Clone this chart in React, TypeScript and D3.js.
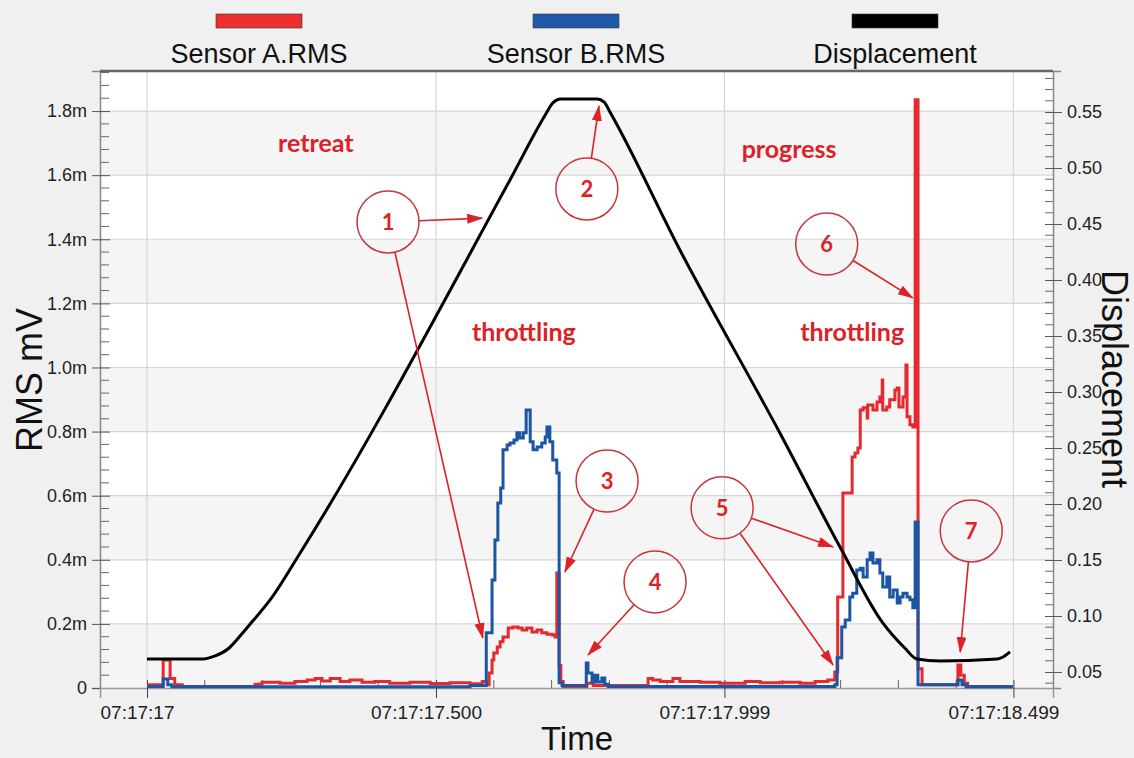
import { useEffect, useRef } from 'react';
import * as d3 from 'd3';

// time axis: milliseconds after 07:17:17.000
const timeTicks = [0, 500, 999, 1499];
const timeTickLabels = ['07:17:17', '07:17:17.500', '07:17:17.999', '07:17:18.499'];
const rmsTicks = [0, 0.2, 0.4, 0.6, 0.8, 1.0, 1.2, 1.4, 1.6, 1.8];
const dispTicks = [0.05, 0.1, 0.15, 0.2, 0.25, 0.3, 0.35, 0.4, 0.45, 0.5, 0.55];

// Sensor A.RMS (mV, shown with "m" suffix), step series
const sensorATime = [
  0, 28, 40, 48, 61, 187, 199, 230, 256, 277, 291, 303, 317, 334, 351, 372, 394, 420, 455, 490,
  524, 559, 580, 588, 592, 597, 600, 606, 611, 616, 625, 633, 642, 649, 657, 666, 675, 683, 692, 701,
  706, 709, 713, 716, 720, 760, 761, 772, 867, 875, 888, 910, 922, 957, 991, 1035, 1061, 1095, 1130, 1156,
  1178, 1190, 1195, 1204, 1220, 1225, 1230, 1234, 1239, 1246, 1247, 1256, 1263, 1268, 1272, 1273, 1280, 1285, 1294, 1298,
  1301, 1308, 1313, 1315, 1320, 1325, 1329, 1334, 1341, 1403, 1408, 1414, 1420, 1498,
];
const sensorAValue = [
  0.01, 0.087, 0.03, 0.01, 0.005, 0.012, 0.018, 0.015, 0.02, 0.025, 0.03, 0.022, 0.03, 0.02, 0.025, 0.018, 0.02, 0.015, 0.018, 0.014,
  0.016, 0.013, 0.02, 0.01, 0.047, 0.087, 0.109, 0.128, 0.144, 0.159, 0.187, 0.19, 0.187, 0.181, 0.187, 0.175, 0.181, 0.172, 0.168, 0.165,
  0.159, 0.359, 0.07, 0.02, 0.005, 0.005, 0.015, 0.008, 0.03, 0.025, 0.02, 0.03, 0.02, 0.018, 0.015, 0.02, 0.016, 0.018, 0.015, 0.02,
  0.025, 0.05, 0.284, 0.608, 0.721, 0.733, 0.749, 0.867, 0.874, 0.842, 0.883, 0.867, 0.892, 0.908, 0.961, 0.867, 0.877, 0.899, 0.93, 0.936,
  0.877, 0.908, 1.008, 0.846, 0.821, 0.814, 1.835, 0.06, 0.01, 0.072, 0.04, 0.015, 0.005, 0.005,
];

// Sensor B.RMS
const sensorBTime = [
  0, 28, 36, 43, 559, 587, 597, 602, 607, 612, 616, 623, 628, 635, 640, 645, 651, 656, 663, 668,
  675, 683, 689, 692, 697, 702, 709, 713, 718, 760, 763, 770, 775, 780, 787, 792, 798, 1190, 1194, 1202,
  1208, 1216, 1221, 1228, 1234, 1239, 1246, 1251, 1256, 1263, 1268, 1273, 1280, 1285, 1291, 1298, 1303, 1308, 1315, 1320,
  1325, 1329, 1334, 1403, 1410, 1417, 1498,
];
const sensorBValue = [
  0.005, 0.028, 0.01, 0.004, 0.008, 0.172, 0.337, 0.462, 0.577, 0.624, 0.743, 0.758, 0.764, 0.774, 0.796, 0.78, 0.796, 0.867, 0.768, 0.743,
  0.752, 0.764, 0.783, 0.814, 0.768, 0.711, 0.671, 0.016, 0.008, 0.078, 0.047, 0.019, 0.04, 0.019, 0.031, 0.012, 0.005, 0.01, 0.094, 0.19,
  0.212, 0.284, 0.296, 0.368, 0.374, 0.346, 0.4, 0.421, 0.39, 0.4, 0.359, 0.315, 0.346, 0.284, 0.306, 0.265, 0.284, 0.296, 0.284, 0.275,
  0.25, 0.518, 0.01, 0.025, 0.01, 0.004, 0.004,
];

// Displacement (right axis)
const dispTime = [0, 97, 118, 140, 161, 183, 213, 265, 628, 689, 702, 715, 779, 791, 801, 922, 1095, 1199, 1273, 1311, 1332, 1372, 1471, 1481, 1493];
const dispValue = [
  0.0616, 0.0616, 0.0643, 0.0705, 0.0821, 0.0955, 0.1143, 0.1563, 0.4893, 0.5473, 0.558, 0.5616, 0.5616, 0.5589, 0.55,
  0.4268, 0.2634, 0.1616, 0.0938, 0.0714, 0.0616, 0.0598, 0.0616, 0.0634, 0.0679,
];

// annotations in data units (time ms, RMS value)
const circleLabels = ['1', '2', '3', '4', '5', '6', '7'];
const circleTime = [417, 761, 796, 879, 995, 1176, 1426];
const circleValue = [1.454, 1.557, 0.646, 0.331, 0.562, 1.385, 0.49];
// arrows: index of circle, tip position
const arrowFrom = [0, 0, 1, 2, 3, 4, 4, 5, 6];
const arrowTipTime = [580, 581, 782, 723, 763, 1187, 1187, 1325, 1407];
const arrowTipValue = [1.466, 0.156, 1.816, 0.362, 0.103, 0.44, 0.072, 1.217, 0.112];
const noteTexts = ['retreat', 'progress', 'throttling', 'throttling'];
const noteTime = [292, 1111, 652, 1220];
const noteValue = [1.672, 1.654, 1.083, 1.083];

const legendNames = ['Sensor A.RMS', 'Sensor B.RMS', 'Displacement'];
const legendColors = ['#ee2f2f', '#1f5aa8', '#000000'];

const W = 1134;
const H = 758;

const App = () => {
  const ref = useRef<SVGSVGElement>(null);

  useEffect(() => {
    if (!ref.current) return;
    const svg = d3.select(ref.current);
    svg.selectAll('*').remove();

    const left = 100;
    const right = 1053;
    const top = 71;
    const bottom = 688;
    const font = "'Liberation Sans', Arial, sans-serif";
    const noteRed = '#dc2127';

    svg.append('rect').attr('width', W).attr('height', H).attr('fill', '#f0f0f0');

    const x = d3.scaleLinear().domain([-81.3, 1567.5]).range([left, right]);
    const y = d3.scaleLinear().domain([0, 1.925]).range([bottom, top]);
    const y2 = d3.scaleLinear().domain([0.0357, 0.5866]).range([bottom, top]);

    // alternating bands
    const edges = [...rmsTicks, 1.925];
    svg
      .append('g')
      .selectAll('rect')
      .data(d3.range(edges.length - 1))
      .enter()
      .append('rect')
      .attr('x', left)
      .attr('width', right - left)
      .attr('y', (i) => y(edges[i + 1]))
      .attr('height', (i) => y(edges[i]) - y(edges[i + 1]))
      .attr('fill', (i) => (i % 2 === 0 ? '#f5f5f5' : '#ffffff'));

    // grid
    svg
      .append('g')
      .selectAll('line')
      .data(rmsTicks.slice(1))
      .enter()
      .append('line')
      .attr('x1', left)
      .attr('x2', right)
      .attr('y1', (d) => y(d))
      .attr('y2', (d) => y(d))
      .attr('stroke', '#d6d6d6')
      .attr('stroke-width', 1.2);
    svg
      .append('g')
      .selectAll('line')
      .data(timeTicks)
      .enter()
      .append('line')
      .attr('x1', (d) => x(d))
      .attr('x2', (d) => x(d))
      .attr('y1', top)
      .attr('y2', bottom)
      .attr('stroke', '#d6d6d6')
      .attr('stroke-width', 1.2);

    // minor ticks
    const minor = svg.append('g').attr('stroke', '#666').attr('stroke-width', 1);
    d3.range(0.04, 1.925, 0.04)
      .filter((v) => Math.abs(v / 0.2 - Math.round(v / 0.2)) > 0.05)
      .forEach((v) => {
        minor.append('line').attr('x1', left).attr('x2', left + 9).attr('y1', y(v)).attr('y2', y(v));
      });
    d3.range(0.04, 0.5866, 0.01)
      .filter((v) => Math.abs(v / 0.05 - Math.round(v / 0.05)) > 0.05)
      .forEach((v) => {
        minor.append('line').attr('x1', right - 8).attr('x2', right).attr('y1', y2(v)).attr('y2', y2(v));
      });
    d3.range(100, 1500, 100)
      .filter((t) => t % 500 !== 0)
      .forEach((t) => {
        minor.append('line').attr('x1', x(t)).attr('x2', x(t)).attr('y1', bottom).attr('y2', bottom - 8);
      });

    // left axis
    const gl = svg
      .append('g')
      .attr('transform', `translate(${left},0)`)
      .call(
        d3
          .axisLeft(y)
          .tickValues(rmsTicks)
          .tickSize(8)
          .tickPadding(5)
          .tickFormat((d) => (+d === 0 ? '0' : `${(+d).toFixed(1)}m`))
      );
    gl.select('.domain').attr('stroke', '#888').attr('stroke-width', 1.5);
    gl.selectAll('.tick line').attr('x2', -8).attr('x1', 10).attr('stroke', '#555');
    gl.selectAll('.tick text').attr('font-size', 18).attr('font-family', font).attr('fill', '#222');

    // right axis
    const gr = svg
      .append('g')
      .attr('transform', `translate(${right},0)`)
      .call(
        d3
          .axisRight(y2)
          .tickValues(dispTicks)
          .tickSize(8)
          .tickPadding(6)
          .tickFormat((d) => (+d).toFixed(2))
      );
    gr.select('.domain').attr('stroke', '#888').attr('stroke-width', 1.5);
    gr.selectAll('.tick line').attr('x1', -8).attr('x2', 9).attr('stroke', '#555');
    gr.selectAll('.tick text').attr('font-size', 18).attr('font-family', font).attr('fill', '#222');

    // bottom axis
    const gb = svg
      .append('g')
      .attr('transform', `translate(0,${bottom})`)
      .call(
        d3
          .axisBottom(x)
          .tickValues(timeTicks)
          .tickSize(10)
          .tickPadding(8)
          .tickFormat((_, i) => timeTickLabels[i])
      );
    gb.select('.domain').attr('stroke', '#999').attr('stroke-width', 1.5);
    gb.selectAll('.tick line').attr('y1', -8).attr('stroke', '#444');
    gb.selectAll('.tick text')
      .attr('font-size', 19)
      .attr('dx', -10)
      .attr('font-family', font)
      .attr('fill', '#222');

    // top border
    svg
      .append('line')
      .attr('x1', left)
      .attr('x2', right)
      .attr('y1', top)
      .attr('y2', top)
      .attr('stroke', '#666')
      .attr('stroke-width', 2.5);

    // series
    const stepLine = d3
      .line<number>()
      .x((d) => x(d))
      .curve(d3.curveStepAfter);
    svg
      .append('path')
      .attr('d', stepLine.y((_, i) => y(sensorAValue[i]))(sensorATime))
      .attr('fill', 'none')
      .attr('stroke', '#e42a2e')
      .attr('stroke-width', 3);
    svg
      .append('path')
      .attr('d', stepLine.y((_, i) => y(sensorBValue[i]))(sensorBTime))
      .attr('fill', 'none')
      .attr('stroke', '#1c55a3')
      .attr('stroke-width', 3);
    const dispLine = d3
      .line<number>()
      .x((d) => x(d))
      .y((_, i) => y2(dispValue[i]))
      .curve(d3.curveMonotoneX);
    svg
      .append('path')
      .attr('d', dispLine(dispTime))
      .attr('fill', 'none')
      .attr('stroke', '#000')
      .attr('stroke-width', 3)
      .attr('stroke-linejoin', 'round');

    // annotations
    const defs = svg.append('defs');
    defs
      .append('marker')
      .attr('id', 'head')
      .attr('markerUnits', 'userSpaceOnUse')
      .attr('markerWidth', 16)
      .attr('markerHeight', 10)
      .attr('refX', 15)
      .attr('refY', 5)
      .attr('orient', 'auto')
      .append('path')
      .attr('d', 'M0,0 L16,5 L0,10 Z')
      .attr('fill', noteRed);

    const r = 31;
    const ann = svg.append('g');
    arrowFrom.forEach((c, i) => {
      const cx = x(circleTime[c]);
      const cy = y(circleValue[c]);
      const tx = x(arrowTipTime[i]);
      const ty = y(arrowTipValue[i]);
      const len = Math.hypot(tx - cx, ty - cy);
      ann
        .append('line')
        .attr('x1', cx + ((tx - cx) / len) * r)
        .attr('y1', cy + ((ty - cy) / len) * r)
        .attr('x2', tx)
        .attr('y2', ty)
        .attr('stroke', noteRed)
        .attr('stroke-width', 1.6)
        .attr('marker-end', 'url(#head)');
    });
    circleLabels.forEach((lab, i) => {
      ann
        .append('circle')
        .attr('cx', x(circleTime[i]))
        .attr('cy', y(circleValue[i]))
        .attr('r', r)
        .attr('fill', 'none')
        .attr('stroke', '#c8363b')
        .attr('stroke-width', 1.5);
      ann
        .append('text')
        .attr('x', x(circleTime[i]))
        .attr('y', y(circleValue[i]) + 8)
        .attr('text-anchor', 'middle')
        .attr('font-family', 'Lato, sans-serif')
        .attr('font-weight', 'bold')
        .attr('font-size', 22)
        .attr('fill', noteRed)
        .text(lab);
    });
    noteTexts.forEach((t, i) => {
      ann
        .append('text')
        .attr('x', x(noteTime[i]))
        .attr('y', y(noteValue[i]))
        .attr('text-anchor', 'middle')
        .attr('font-family', 'Lato, sans-serif')
        .attr('font-weight', 'bold')
        .attr('font-size', 25)
        .attr('fill', noteRed)
        .text(t);
    });

    // legend
    const legendX = [259, 576, 895];
    legendNames.forEach((name, i) => {
      svg
        .append('rect')
        .attr('x', legendX[i] - 43)
        .attr('y', 14)
        .attr('width', 86)
        .attr('height', 14)
        .attr('fill', legendColors[i])
        .attr('stroke', '#333')
        .attr('stroke-width', 0.6);
      svg
        .append('text')
        .attr('x', legendX[i])
        .attr('y', 63)
        .attr('text-anchor', 'middle')
        .attr('font-family', font)
        .attr('font-size', 27)
        .attr('fill', '#111')
        .text(name);
    });

    // axis titles
    svg
      .append('text')
      .attr('transform', `translate(42,380) rotate(-90)`)
      .attr('text-anchor', 'middle')
      .attr('font-family', font)
      .attr('font-size', 36)
      .attr('fill', '#111')
      .text('RMS mV');
    svg
      .append('text')
      .attr('transform', `translate(1102,379) rotate(90)`)
      .attr('text-anchor', 'middle')
      .attr('font-family', font)
      .attr('font-size', 36)
      .attr('fill', '#111')
      .text('Displacement');
    svg
      .append('text')
      .attr('x', 577)
      .attr('y', 750)
      .attr('text-anchor', 'middle')
      .attr('font-family', font)
      .attr('font-size', 33)
      .attr('fill', '#111')
      .text('Time');
  }, []);

  return (
    <div>
      <svg ref={ref} width={W} height={H} style={{ position: 'absolute', left: 0, top: 0 }}></svg>
    </div>
  );
};

export default App;
